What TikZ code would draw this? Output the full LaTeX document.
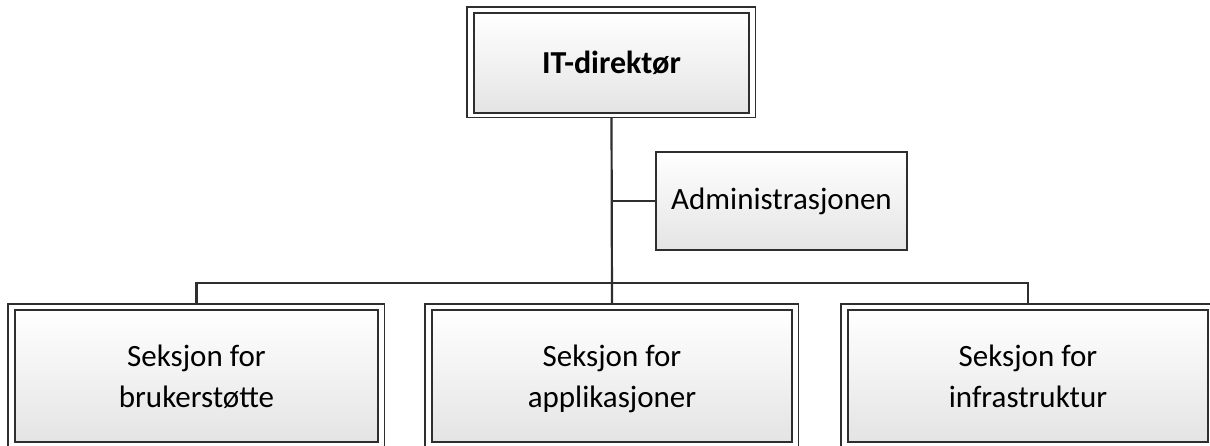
\documentclass[tikz,border=0pt]{standalone}
\usepackage{fontspec}
\setmainfont{Carlito}
\usepackage{xcolor}
\usetikzlibrary{backgrounds,calc,positioning}
\definecolor{ink}{HTML}{2E2E2E}
\definecolor{boxtop}{HTML}{FFFFFF}
\definecolor{boxbottom}{HTML}{E4E4E4}
\tikzset{
  font=\fontsize{15.5}{20.5}\selectfont,
  link/.style={draw=ink, line width=1.1pt},
  unit/.style={draw=ink, line width=1.3pt, top color=boxtop,
    bottom color=boxbottom, align=center, inner sep=0pt},
  frame/.style={draw=ink, fill=white, line width=.8pt},
  staff/.style={unit, line width=1pt, minimum width=125.5pt, minimum height=49pt},
  section/.style={unit, minimum width=180pt, minimum height=66pt}
}
\newcommand{\OuterFrame}[1]{%
  \path[frame] ($(#1.north west)+(-6,-5)$) rectangle ($(#1.south east)+(5,3)$);
}
\newcommand{\SecText}[2]{\rule{0pt}{17pt}#1\\#2\strut}

\begin{document}
\begin{tikzpicture}[x=0.5pt,y=-0.5pt]
  \useasboundingbox (0,0) rectangle (1210,445);

  % leader
  \node[unit, minimum width=137.5pt, minimum height=50pt,
    font=\fontsize{16}{20}\selectfont\bfseries]
    (dir) at (611.5,63) {IT-direktør};
  \node[staff] (adm) at (781.5,201) {Administrasjonen};

  % sections
  \node[section, minimum width=181.5pt] (bru) at (196.5,376) {\SecText{Seksjon for}{brukerstøtte}};
  \node[section] (app) at (612,376) {\SecText{Seksjon for}{applikasjoner}};
  \node[section] (inf) at (1028,376) {\SecText{Seksjon for}{infrastruktur}};

  \begin{scope}[on background layer]
    \coordinate (bus) at (612,283);
    \draw[link] (dir.south) -- (app.north);
    \draw[link] (dir.south |- adm.west) -- (adm.west);
    \draw[link] (bru.north) |- (bus) -| (inf.north);
    \OuterFrame{dir}
    \OuterFrame{bru}
    \OuterFrame{app}
    \OuterFrame{inf}
  \end{scope}
\end{tikzpicture}
\end{document}
